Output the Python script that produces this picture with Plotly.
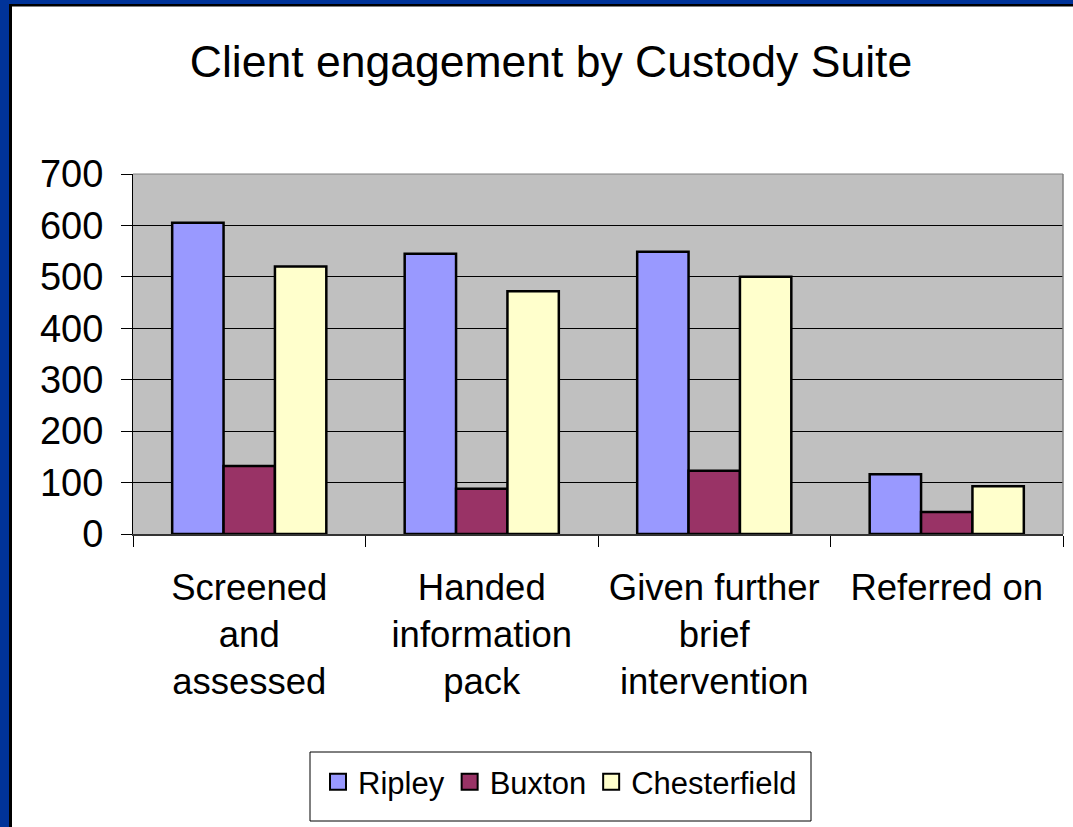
import plotly.graph_objects as go

# Chart data
categories = [
    "Screened<br>and<br>assessed",
    "Handed<br>information<br>pack",
    "Given further<br>brief<br>intervention",
    "Referred on",
]
ripley = [605, 545, 549, 116]
buxton = [132, 88, 123, 43]
chesterfield = [520, 472, 500, 93]

series = [
    ("Ripley", ripley, "#9999FF"),
    ("Buxton", buxton, "#993366"),
    ("Chesterfield", chesterfield, "#FFFFCC"),
]

W, H = 1073, 827
L, R, T, B = 133, 10, 174, 293
PW, PH = W - L - R, H - T - B


def px(x):
    return (x - L) / PW


def py(y):
    return (H - B - y) / PH


FONT = "Liberation Sans, Arial, sans-serif"

fig = go.Figure()
for name, vals, col in series:
    fig.add_trace(go.Bar(
        x=categories, y=vals, name=name, showlegend=False,
        marker=dict(color=col, line=dict(color="black", width=2.5)),
    ))
# legend entries with larger square swatches
for name, vals, col in series:
    fig.add_trace(go.Scatter(
        x=[None], y=[None], mode="markers", name=name,
        marker=dict(symbol="square", size=16, color=col,
                    line=dict(color="black", width=2)),
    ))

shapes = [
    # outer frame: blue band with black inner edge on left and top
    dict(type="rect", xref="paper", yref="paper", x0=px(0), x1=px(9),
         y0=py(H), y1=py(0), fillcolor="#003399", line_width=0, layer="above"),
    dict(type="rect", xref="paper", yref="paper", x0=px(9), x1=px(12),
         y0=py(H), y1=py(4), fillcolor="black", line_width=0, layer="above"),
    dict(type="rect", xref="paper", yref="paper", x0=px(0), x1=px(W),
         y0=py(4), y1=py(0), fillcolor="#003399", line_width=0, layer="above"),
    dict(type="rect", xref="paper", yref="paper", x0=px(9), x1=px(W),
         y0=py(6.5), y1=py(4), fillcolor="black", line_width=0, layer="above"),
    # plot area border (top and right)
    dict(type="line", xref="paper", yref="paper", x0=0, x1=1, y0=1, y1=1,
         line=dict(color="#808080", width=1), layer="above"),
    dict(type="line", xref="paper", yref="paper", x0=1, x1=1, y0=0, y1=1,
         line=dict(color="#808080", width=1.5), layer="above"),
    # legend box
    dict(type="rect", xref="paper", yref="paper", x0=px(310), x1=px(811),
         y0=py(821), y1=py(752), fillcolor="white",
         line=dict(color="black", width=1), layer="above"),
]

fig.update_layout(
    width=W, height=H,
    margin=dict(l=L, r=R, t=T, b=B, pad=0),
    paper_bgcolor="white", plot_bgcolor="#C0C0C0",
    font=dict(family=FONT, color="black"),
    title=dict(text="Client engagement by Custody Suite",
               font=dict(family=FONT, size=44.5, color="black"),
               xref="container", yref="container",
               x=551 / W, xanchor="center", y=1 - 61 / H, yanchor="middle"),
    barmode="group", bargap=0.337, bargroupgap=0,
    shapes=shapes,
    legend=dict(orientation="h", x=px(560), xanchor="center",
                y=py(782), yanchor="middle",
                bgcolor="rgba(0,0,0,0)", borderwidth=0,
                font=dict(family=FONT, size=31, color="black"),
                itemsizing="trace"),
    showlegend=True,
)

fig.update_xaxes(
    type="category", tickson="boundaries", ticks="outside", ticklen=11,
    tickcolor="black", tickwidth=1, showline=True, linecolor="#333333",
    linewidth=1.5, showgrid=False,
    tickfont=dict(family=FONT, size=36.5, color="black"),
    ticklabelstandoff=20,
)
fig.update_yaxes(
    range=[0, 700], dtick=100, ticks="outside", ticklen=11,
    tickcolor="black", tickwidth=1, showline=True, linecolor="black",
    linewidth=1, showgrid=True, gridcolor="black", gridwidth=1,
    zeroline=False,
    tickfont=dict(family=FONT, size=38, color="black"),
    ticklabelstandoff=10,
)

fig.write_html("out.html")
